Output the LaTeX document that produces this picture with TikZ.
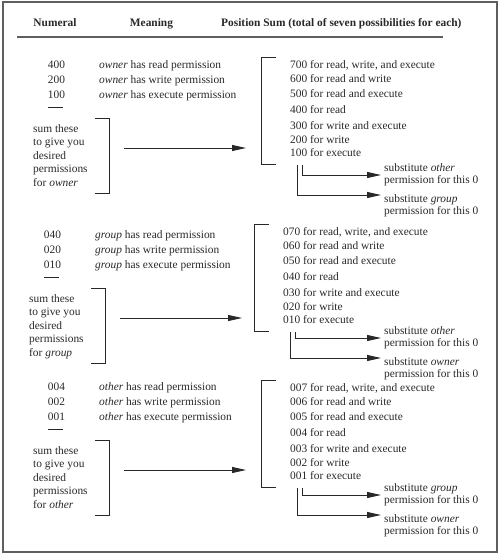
\documentclass[tikz,border=0pt]{standalone}
\usepackage{fontspec}
\setmainfont{Liberation Serif}
\usepackage{xcolor}
\definecolor{permink}{RGB}{40,40,40}
\definecolor{permframe}{RGB}{95,95,95}
\usetikzlibrary{arrows.meta, calc}

\tikzset{
  permline/.style={line width=0.9pt, permink},
  permarrow/.style={permline, -{Triangle[length=14pt, width=6pt]}},
  permtxt/.style={font=\fontsize{11.4}{13.5}\selectfont, inner sep=0pt, text=permink},
  subtxt/.style={font=\fontsize{11.4}{12.3}\selectfont, inner xsep=3pt, inner ysep=0pt,
                 align=left, text=permink},
}

\begin{document}
\begin{tikzpicture}[x=1pt, y=-1pt]
  \useasboundingbox (0,0) rectangle (500,555);
  % Frame
  \draw[permframe, line width=1.1pt] (3,2) rectangle (497,552);

  % Column headings
  \node[permtxt, font=\fontsize{11.4}{13.5}\selectfont\bfseries, anchor=base] (hnum) at (55,26) {Numeral};
  \node[permtxt, font=\fontsize{11.4}{13.5}\selectfont\bfseries, anchor=base] (hmean) at (151.5,26) {Meaning};
  \node[permtxt, font=\fontsize{11.4}{13.5}\selectfont\bfseries, anchor=base west] (hpos) at (221,26)
       {Position Sum (total of seven possibilities for each)};
  \draw[permframe, line width=1.1pt] (17,37) -- (443,37);

  % One block for each class of user
  \foreach \sec/\y/\dx/\rx/\ry/\sy/\pre/\post/\who/\sa/\sb in {
      own/68/0/0/0/0/{}/00/owner/other/group,
      grp/238/-4/-7/-3/-7/0/0/group/other/owner,
      oth/390/0/0/1/-2/00/{}/other/group/owner} {

    % Numerals and meanings
    \foreach \d/\perm/\k in {4/read/0, 2/write/15, 1/execute/30} {
      \node[permtxt, anchor=base] (\sec-n\d) at (56.5+\dx, \y+\k) {\pre\d\post};
      \node[permtxt, anchor=base west] (\sec-m\d) at (99+\dx, \y+\k)
           {\textit{\who} has \perm\ permission};
    }
    \draw[permline] (48+\dx, \y+39) -- (63+\dx, \y+39);

    % Sum note and its bracket
    \node[permtxt, anchor=north west, align=left] (\sec-sum) at (33+\dx, \y+56)
         {sum these\\to give you\\desired\\permissions\\for \textit{\who}};
    \draw[permline] (95+\dx, \y+50) -| (109+\dx, \y+125) -- (95+\dx, \y+125);

    \coordinate (\sec-from) at (124+\dx, \y+80);
    \coordinate (\sec-to) at (246+\dx, \y+80);
    \draw[permarrow] (\sec-from) -- (\sec-to);

    % Position sums
    \draw[permline] (276+\rx, \y+\ry-11) -| (261+\rx, \y+\ry+96) -- (276+\rx, \y+\ry+96);
    \foreach \d/\what/\k in {7/{read, write, and execute}/0, 6/read and write/14.5,
        5/read and execute/29.5, 4/read/45, 3/write and execute/61,
        2/write/75.5, 1/execute/88.5} {
      \node[permtxt, anchor=base west] (\sec-p\d) at (290+\rx, \y+\ry+\k) {{\pre\d\post} for \what};
    }

    % Substitutions for the zeros
    \coordinate (\sec-za) at (302+\rx, \y+\ry+97);
    \coordinate (\sec-zb) at (297+\rx, \y+\ry+97);
    \node[subtxt, anchor=west] (\sec-sa) at (381, \y+\sy+107)
         {substitute \textit{\sa}\\permission for this 0};
    \node[subtxt, anchor=west] (\sec-sb) at (381, \y+\sy+138)
         {substitute \textit{\sb}\\permission for this 0};
    \draw[permarrow] (\sec-za) |- (\sec-sa.west);
    \draw[permarrow] (\sec-zb) |- ($(\sec-sb.west)+(0,-11)$);
  }
\end{tikzpicture}
\end{document}
